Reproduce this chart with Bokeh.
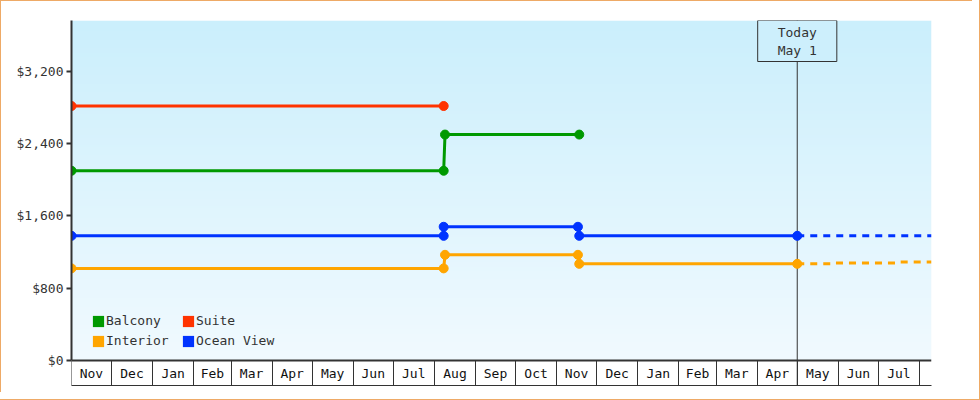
from bokeh.plotting import figure
from bokeh.models import (Range1d, FixedTicker, NumeralTickFormatter, DatetimeAxis,
                          DatetimeTickFormatter, Span, Label, Legend, LegendItem)
from bokeh.embed import file_html
from bokeh.resources import INLINE
import numpy as np
import pandas as pd

FONT = "DejaVu Sans Mono"

# fare history (what was actually seen)
balcony_dates = ["2021-11-01", "2022-08-08", "2022-08-09", "2022-11-18"]
balcony_price = [2099, 2099, 2499, 2499]

suite_dates = ["2021-11-01", "2022-08-08"]
suite_price = [2815, 2815]

ocean_dates = ["2021-11-01", "2022-08-08", "2022-08-08", "2022-11-17", "2022-11-18", "2023-05-01"]
ocean_price = [1379, 1379, 1479, 1479, 1379, 1379]

interior_dates = ["2021-11-01", "2022-08-08", "2022-08-09", "2022-11-17", "2022-11-18", "2023-05-01"]
interior_price = [1019, 1019, 1169, 1169, 1069, 1069]

# projection after today (dotted)
ocean_fc_dates = ["2023-05-01", "2023-08-10"]
ocean_fc_price = [1379, 1379]
interior_fc_dates = ["2023-05-01", "2023-05-26", "2023-05-27", "2023-07-15", "2023-07-16", "2023-08-10"]
interior_fc_price = [1069, 1069, 1079, 1079, 1089, 1089]

today = "2023-05-01"
today_text = "Today\nMay 1"
y_ticks = [0, 800, 1600, 2400, 3200]
x_start, x_end = "2021-11-01", "2023-08-10"

series = [
    ("Balcony", "#009900", balcony_dates, balcony_price),
    ("Suite", "#ff3300", suite_dates, suite_price),
    ("Interior", "#ffa500", interior_dates, interior_price),
    ("Ocean View", "#0033ff", ocean_dates, ocean_price),
]
forecasts = [
    ("#ffa500", interior_fc_dates, interior_fc_price),
    ("#0033ff", ocean_fc_dates, ocean_fc_price),
]


def ms(d):
    return pd.Timestamp(d).value / 1e6


# y range chosen so that the month band sits under $0 inside the frame
px = 3200 / 289.3
y_top, y_bot = 340 * px, -25 * px

p = figure(width=972, height=392, x_axis_type="datetime", output_backend="svg",
           toolbar_location=None, title=None,
           x_range=Range1d(ms(x_start), ms(x_end)), y_range=Range1d(y_bot, y_top),
           min_border_left=71, min_border_right=41, min_border_top=20, min_border_bottom=7)
p.background_fill_color = "white"
p.border_fill_color = None
p.outline_line_color = None
p.grid.visible = False
# thin orange frame around the whole widget
p.styles = {"outline": "1px solid #eeaa66", "outline-offset": "7px",
            "box-shadow": "inset 1px 1px 0 0 #eeaa66"}

# light blue gradient behind the data area
n = 200
top_c = np.array([203, 239, 252])
bot_c = np.array([241, 250, 255])
t = np.linspace(0, 1, n)[:, None]
rgb = (bot_c * (1 - t) + top_c * t).astype(np.uint8)
img = np.zeros((n, 1), dtype=np.uint32)
view = img.view(dtype=np.uint8).reshape((n, 1, 4))
view[:, 0, 0:3] = rgb
view[:, 0, 3] = 255
p.image_rgba(image=[img], x=ms(x_start), y=0, dw=ms(x_end) - ms(x_start), dh=y_top, level="image")

# y axis
yax = p.yaxis[0]
yax.bounds = (0, y_top)
yax.ticker = FixedTicker(ticks=y_ticks)
yax.formatter = NumeralTickFormatter(format="$0,0")
yax.axis_line_width = 2
yax.axis_line_color = "#333333"
yax.major_tick_out = 5
yax.major_tick_in = 0
yax.major_tick_line_width = 2
yax.major_tick_line_color = "#333333"
yax.minor_tick_line_color = None
yax.major_label_standoff = 3
yax.major_label_text_font = FONT
yax.major_label_text_font_size = "13px"
yax.major_label_text_color = "#333333"

# bottom edge of the month band
xb = p.xaxis[0]
xb.ticker = FixedTicker(ticks=[])
xb.major_tick_out = 0
xb.major_tick_in = 0
xb.minor_tick_out = 0
xb.minor_tick_in = 0
xb.major_label_standoff = 0
xb.axis_line_color = "#333333"
xb.axis_line_width = 1

# month boxes: boundaries as minor ticks, names at the middle of each month
bounds = pd.date_range("2021-11-01", "2023-08-01", freq="MS")
mids = bounds[:-1] + (bounds[1:] - bounds[:-1]) / 2
xa = DatetimeAxis(fixed_location=0,
                  ticker=FixedTicker(ticks=(mids.asi8 / 1e6).tolist(),
                                     minor_ticks=(bounds.asi8 / 1e6).tolist()),
                  formatter=DatetimeTickFormatter(microseconds="%b", milliseconds="%b", seconds="%b",
                                                  minsec="%b", minutes="%b", hourmin="%b", hours="%b",
                                                  days="%b", months="%b", years="%b"))
xa.axis_line_width = 2
xa.axis_line_color = "#333333"
xa.major_tick_in = 0
xa.major_tick_out = 0
xa.minor_tick_in = 0
xa.minor_tick_out = 25
xa.minor_tick_line_color = "#333333"
xa.major_label_standoff = -20
xa.major_label_text_font = FONT
xa.major_label_text_font_size = "13px"
xa.major_label_text_color = "#111111"
p.add_layout(xa, "below")

# today marker
p.add_layout(Span(location=ms(today), dimension="height", line_color="#333333", line_width=1,
                  level="underlay"))
p.add_layout(Label(x=ms(today), y=y_top, text=today_text, text_align="center", text_baseline="top",
                   text_font=FONT, text_font_size="13px", text_color="#333333", text_line_height=1.2,
                   background_fill_color="#cdeffc", border_line_color="#333333",
                   padding=(20, 4)))

items = []
for name, color, dates, price in series:
    x = pd.to_datetime(dates)
    p.line(x, price, line_color=color, line_width=3)
    p.scatter(x, price, marker="circle", size=9, fill_color=color, line_color=color)
    # square swatch for the legend; NaN row so nothing is drawn in the plot
    sw = p.quad(left=[np.nan], right=[np.nan], top=[np.nan], bottom=[np.nan],
                fill_color=color, line_color=None)
    items.append(LegendItem(label=name, renderers=[sw]))

for color, dates, price in forecasts:
    p.line(pd.to_datetime(dates), price, line_color=color, line_width=3, line_dash="7 6")

legend = Legend(items=items, location=(20, 36), orientation="horizontal", ncols=2,
                glyph_width=14, glyph_height=14, label_height=17, label_width=72,
                label_standoff=1, spacing=3, padding=0, margin=0,
                border_line_color=None, background_fill_alpha=0,
                label_text_font=FONT, label_text_font_size="13px", label_text_color="#333333")
p.add_layout(legend)

open("out.html", "w").write(file_html(p, INLINE))
